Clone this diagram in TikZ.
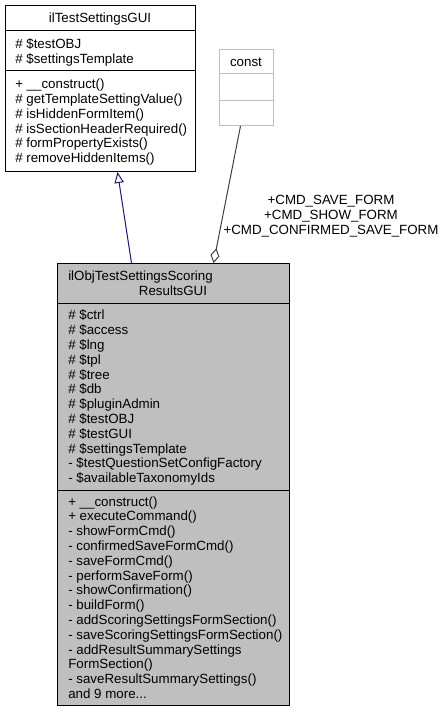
\documentclass[tikz,border=0pt]{standalone}
\usepackage{fontspec}
\setmainfont{Liberation Sans}
\usetikzlibrary{arrows.meta,calc}
\definecolor{midblue}{HTML}{191970}
\definecolor{boxgrey}{HTML}{BFBFBF}
\definecolor{edgegrey}{HTML}{404040}
\newcommand\ls{\rule[-1.95pt]{0pt}{11.1pt}}
\newcommand\umlfont{\fontsize{10}{11.1}\selectfont\lineskiplimit=-100pt\lineskip=0pt}
\begin{document}
\begin{tikzpicture}[x=0.75pt,y=-0.75pt,
  classbox/.style={draw=black, line width=0.75pt, fill=white, inner sep=0pt, anchor=north west},
  constbox/.style={draw=boxgrey, line width=0.75pt, fill=white, inner sep=0pt, anchor=north west},
  txt/.style={inner sep=0pt, font=\umlfont, align=left, anchor=west},
  ctxt/.style={inner sep=0pt, font=\umlfont, align=center, anchor=center},
  divider/.style={draw=black, line width=0.75pt},
  cdivider/.style={draw=boxgrey, line width=0.75pt},
  inh/.style={draw=midblue, line width=0.75pt, -{Triangle[fill=white, length=8.25pt, width=7pt]}},
  agg/.style={draw=edgegrey, line width=0.75pt, -{Diamond[fill=white, length=11.25pt, width=6.75pt]}}]
\useasboundingbox (0,0) rectangle (447,712);

% top class
\node[classbox, minimum width=142.5pt, minimum height=124.5pt] (top) at (5,5) {};
\draw[divider] (top.west |- 0,31) -- (top.east |- 0,31);
\draw[divider] (top.west |- 0,71) -- (top.east |- 0,71);
\node[ctxt] (toptitle) at (100,18) {\ls ilTestSettingsGUI};
\node[txt] (topfields) at (15,51) {\ls\# \$testOBJ\\\ls\# \$settingsTemplate};
\node[txt] (topmethods) at (15,121) {\ls+ \_\_construct()\\\ls\# getTemplateSettingValue()\\\ls\# isHiddenFormItem()\\\ls\# isSectionHeaderRequired()\\\ls\# formPropertyExists()\\\ls\# removeHiddenItems()};

% const class
\node[constbox, minimum width=40.5pt, minimum height=57pt] (const) at (219,49) {};
\draw[cdivider] (const.west |- 0,74) -- (const.east |- 0,74);
\draw[cdivider] (const.west |- 0,101) -- (const.east |- 0,101);
\node[ctxt] (consttitle) at (246,61.5) {\ls const};

% main class
\node[classbox, fill=boxgrey, minimum width=174pt, minimum height=331.5pt] (main) at (57,263) {};
\draw[divider] (main.west |- 0,303) -- (main.east |- 0,303);
\draw[divider] (main.west |- 0,490) -- (main.east |- 0,490);
\node[txt] (maintitle1) at (68,275.6) {\ls ilObjTestSettingsScoring};
\node[ctxt] (maintitle2) at (173,290.4) {\ls ResultsGUI};
\node[txt] (mainfields) at (68,396.5) {\ls\# \$ctrl\\\ls\# \$access\\\ls\# \$lng\\\ls\# \$tpl\\\ls\# \$tree\\\ls\# \$db\\\ls\# \$pluginAdmin\\\ls\# \$testOBJ\\\ls\# \$testGUI\\\ls\# \$settingsTemplate\\\ls- \$testQuestionSetConfigFactory\\\ls- \$availableTaxonomyIds};
\node[txt] (mainmethods) at (68,597.5) {\ls+ \_\_construct()\\\ls+ executeCommand()\\\ls- showFormCmd()\\\ls- confirmedSaveFormCmd()\\\ls- saveFormCmd()\\\ls- performSaveForm()\\\ls- showConfirmation()\\\ls- buildForm()\\\ls- addScoringSettingsFormSection()\\\ls- saveScoringSettingsFormSection()\\\ls- addResultSummarySettings\\\ls FormSection()\\\ls- saveResultSummarySettings()\\\ls and 9 more...};

% edges
\draw[inh] ([xshift=-31.5pt]main.north) -- ([xshift=12.75pt]top.south);
\draw[agg] ([xshift=-4.5pt]const.south) -- ([xshift=30pt]main.north);
\node[ctxt] (agglabel) at (331,214.5) {\ls+CMD\_SAVE\_FORM\\\ls+CMD\_SHOW\_FORM\\\ls+CMD\_CONFIRMED\_SAVE\_FORM};
\end{tikzpicture}
\end{document}
